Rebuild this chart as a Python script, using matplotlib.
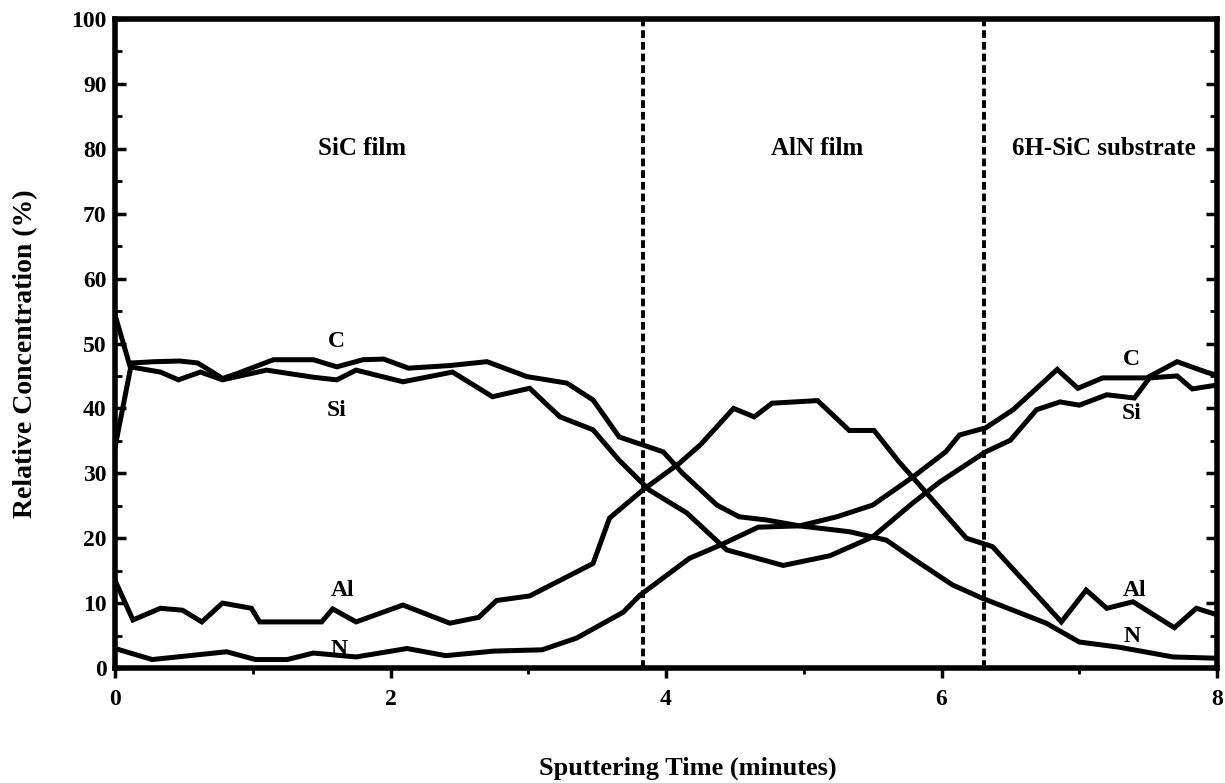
import numpy as np
import matplotlib
matplotlib.use("Agg")
import matplotlib.pyplot as plt
from matplotlib.ticker import MultipleLocator

# ---------------- DATA ----------------
c_time = [0, 0.12, 0.29, 0.47, 0.6, 0.7, 0.78, 0.89, 1.15, 1.44, 1.61, 1.8, 1.95,
          2.13, 2.43, 2.7, 2.99, 3.28, 3.47, 3.66, 3.98, 4.12, 4.37, 4.53, 4.73,
          4.97, 5.24, 5.5, 5.79, 6.03, 6.13, 6.32, 6.52, 6.84, 6.99, 7.17, 7.49,
          7.71, 7.92, 8.0]
c_conc = [34, 47, 47.2, 47.3, 47, 45.7, 44.6, 45.4, 47.5, 47.5, 46.4, 47.5, 47.6,
          46.2, 46.6, 47.2, 44.9, 43.9, 41.3, 35.6, 33.3, 30, 25.1, 23.3, 22.8,
          21.9, 23.3, 25.1, 29.4, 33.3, 35.9, 37, 39.8, 46, 43.1, 44.7, 44.7,
          47.2, 45.6, 45.1]

si_time = [0, 0.11, 0.33, 0.46, 0.62, 0.78, 1.1, 1.44, 1.61, 1.75, 2.09, 2.45,
           2.74, 3.01, 3.23, 3.47, 3.66, 3.88, 4.15, 4.44, 4.85, 5.19, 5.5, 5.79,
           5.99, 6.32, 6.5, 6.69, 6.86, 7.0, 7.2, 7.4, 7.51, 7.71, 7.82, 8.0]
si_conc = [54.4, 46.4, 45.6, 44.4, 45.6, 44.4, 45.9, 44.8, 44.4, 45.9, 44.1, 45.6,
           41.8, 43.1, 38.7, 36.7, 32, 27.4, 23.9, 18.2, 15.8, 17.3, 20.2, 25.4,
           28.7, 33.3, 35.1, 39.8, 41, 40.5, 42.1, 41.6, 44.7, 45, 43, 43.6]

al_time = [0, 0.13, 0.33, 0.49, 0.63, 0.78, 0.99, 1.05, 1.5, 1.58, 1.75, 2.09,
           2.43, 2.64, 2.77, 3.01, 3.47, 3.59, 3.83, 4.1, 4.25, 4.49, 4.64, 4.77,
           5.1, 5.33, 5.51, 5.69, 6.18, 6.37, 6.87, 7.05, 7.2, 7.39, 7.69, 7.85, 8.0]
al_conc = [13.5, 7.4, 9.2, 8.9, 7.1, 10, 9.2, 7.1, 7.1, 9.1, 7.1, 9.7,
           6.9, 7.8, 10.4, 11.1, 16.1, 23.1, 27.4, 31.6, 34.4, 40, 38.7, 40.8,
           41.2, 36.6, 36.6, 31.8, 20, 18.7, 7.1, 12, 9.2, 10.2, 6.2, 9.2, 8.2]

n_time = [0, 0.27, 0.54, 0.81, 1.02, 1.25, 1.44, 1.75, 2.12, 2.4, 2.75, 3.1,
          3.35, 3.69, 3.81, 4.17, 4.39, 4.67, 4.97, 5.33, 5.6, 5.81, 6.08, 6.29,
          6.76, 7.0, 7.29, 7.68, 8.0]
n_conc = [3, 1.3, 1.9, 2.5, 1.3, 1.3, 2.3, 1.7, 3, 1.9, 2.6, 2.8,
          4.6, 8.6, 11.2, 16.9, 18.9, 21.7, 21.9, 21, 19.7, 16.6, 12.8, 10.8,
          6.9, 4, 3.2, 1.7, 1.5]

interfaces = [3.83, 6.31]
regions = ["SiC film", "AlN film", "6H-SiC substrate"]
region_x = [1.79, 5.1, 7.18]

# element labels: (name, x, y) on left and right side
labels_left = [("C", 1.61, 50.3), ("Si", 1.61, 39.6), ("Al", 1.65, 12.0), ("N", 1.63, 2.9)]
labels_right = [("C", 7.38, 47.6), ("Si", 7.38, 39.2), ("Al", 7.4, 12.0), ("N", 7.38, 4.8)]

# ---------------- PLOT ----------------
plt.rcParams["font.family"] = ["Liberation Serif", "DejaVu Serif"]

fig = plt.figure(figsize=(12.25, 7.83), dpi=100)
ax = fig.add_axes([0.0939, 0.1469, 0.8996, 0.8288])

lw = 3.6
for t, v in [(c_time, c_conc), (si_time, si_conc), (al_time, al_conc), (n_time, n_conc)]:
    ax.plot(t, v, color="black", linewidth=lw, solid_joinstyle="miter")

for xi in interfaces:
    ax.plot([xi, xi], [0, 100], color="black", linewidth=2.8, linestyle=(0, (2.0, 1.0)))

for name, xr in zip(regions, region_x):
    ax.text(xr, 80, name, ha="center", va="center", fontsize=18, fontweight="bold")

for name, xl, yl in labels_left + labels_right:
    ax.text(xl, yl, name, ha="center", va="center", fontsize=17, fontweight="bold")

ax.set_xlim(0, 8)
ax.set_ylim(0, 100)
ax.xaxis.set_major_locator(MultipleLocator(2))
ax.xaxis.set_minor_locator(MultipleLocator(1))
ax.yaxis.set_major_locator(MultipleLocator(10))
ax.yaxis.set_minor_locator(MultipleLocator(5))

ax.tick_params(axis="x", which="major", direction="out", length=7, width=2.5,
               labelsize=17, pad=8)
ax.tick_params(axis="x", which="minor", direction="out", length=4, width=2)
ax.tick_params(axis="y", which="major", direction="in", length=8, width=2.5,
               labelsize=17, right=True, pad=6)
ax.tick_params(axis="y", which="minor", direction="in", length=5, width=2, right=True)
for lab in ax.get_xticklabels() + ax.get_yticklabels():
    lab.set_fontweight("bold")

for sp in ax.spines.values():
    sp.set_linewidth(4)

ax.set_xlabel("Sputtering Time (minutes)", fontsize=19, fontweight="bold")
ax.set_ylabel("Relative Concentration (%)", fontsize=20, fontweight="bold")
ax.xaxis.set_label_coords(0.52, -0.154)
ax.yaxis.set_label_coords(-0.081, 0.485)
ax.xaxis.label.set_va("center")
ax.yaxis.label.set_va("center")

plt.savefig("out.png", dpi=100)
plt.close()
